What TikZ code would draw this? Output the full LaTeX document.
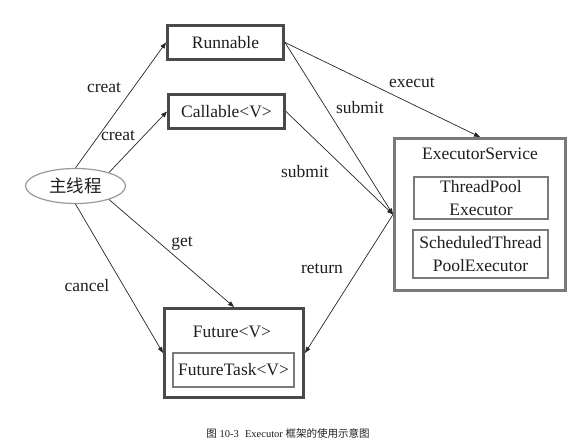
\documentclass[tikz,border=0pt]{standalone}
\usepackage{fontspec}
\setmainfont{Liberation Serif}
\newfontfamily\cjk{Noto Sans CJK SC}
\usetikzlibrary{arrows.meta,shapes.geometric}
\definecolor{boxdark}{HTML}{4A4A4A}
\definecolor{boxgray}{HTML}{7A7A7A}
\definecolor{ovalgray}{HTML}{9A9A9A}
\definecolor{txt}{HTML}{1E1E1E}
\begin{document}
\begin{tikzpicture}[x=10pt, y=10pt, every node/.style={text=txt, font=\fontsize{17.5}{23}\selectfont},
  >={Triangle[length=6pt,width=4.5pt]}]
\tikzstyle{mainbox}=[draw=boxdark, line width=3pt, minimum width=116pt, minimum height=34pt, inner sep=0pt]
\tikzstyle{svcbox}=[draw=boxgray, line width=2.5pt, inner sep=0pt, align=center]
\tikzstyle{lbl}=[inner sep=0pt]
\tikzstyle{conn}=[->, draw=black!85, line width=0.7pt]
\useasboundingbox (0,0) rectangle (58.2,-44.7);
% boxes
\node [mainbox] (run) at (22.55,-4.25) {Runnable};
\node [mainbox] (call) at (22.65,-11.15) {Callable<V>};
\node [draw=ovalgray, line width=1.2pt, ellipse, minimum width=100pt, minimum height=35pt, inner sep=0pt] (main) at (7.55,-18.6) {\cjk 主线程};
\node [svcbox, line width=3pt, minimum width=171pt, minimum height=152pt] (es) at (48,-21.45) {};
\node [lbl] (estitle) at (48.0,-15.4) {ExecutorService};
\node [svcbox, minimum width=134pt, minimum height=42pt] (tpe) at (48.1,-19.8) {ThreadPool\\Executor};
\node [svcbox, minimum width=135pt, minimum height=48pt] (stpe) at (48.05,-25.4) {ScheduledThread\\PoolExecutor};
\node [mainbox, minimum width=139pt, minimum height=89pt] (fut) at (23.4,-35.3) {};
\node [lbl] (futtitle) at (23.2,-33.2) {Future<V>};
\node [svcbox, minimum width=121pt, minimum height=34pt] (ftask) at (23.35,-37.0) {FutureTask<V>};
% connectors
\draw [conn] (main.north) -- (run.west);
\draw [conn] (main.22) -- (call.west);
\draw [conn] (run.east) -- (es.north);
\draw [conn] (run.east) -- (es.west);
\draw [conn] (call.east) -- (es.west);
\draw [conn] (es.west) -- (fut.east);
\draw [conn] (main.-22) -- (fut.north);
\draw [conn] (main.south) -- (fut.west);
% labels
\node [lbl] (lcreata) at (10.4,-8.8) {creat};
\node [lbl] (lcreatb) at (11.8,-13.6) {creat};
\node [lbl] (lexecut) at (41.2,-8.3) {execut};
\node [lbl] (lsubmita) at (36.0,-10.8) {submit};
\node [lbl] (lsubmitb) at (30.5,-17.2) {submit};
\node [lbl] (lreturn) at (32.2,-26.9) {return};
\node [lbl] (lget) at (18.2,-24.3) {get};
\node [lbl] (lcancel) at (8.7,-28.6) {cancel};
\node [lbl, font=\fontsize{10.5}{12}\selectfont] (caption) at (28.8,-43.3) {{\cjk 图} 10-3\hspace{0.6em}Executor {\cjk 框架的使用示意图}};
\end{tikzpicture}
\end{document}
